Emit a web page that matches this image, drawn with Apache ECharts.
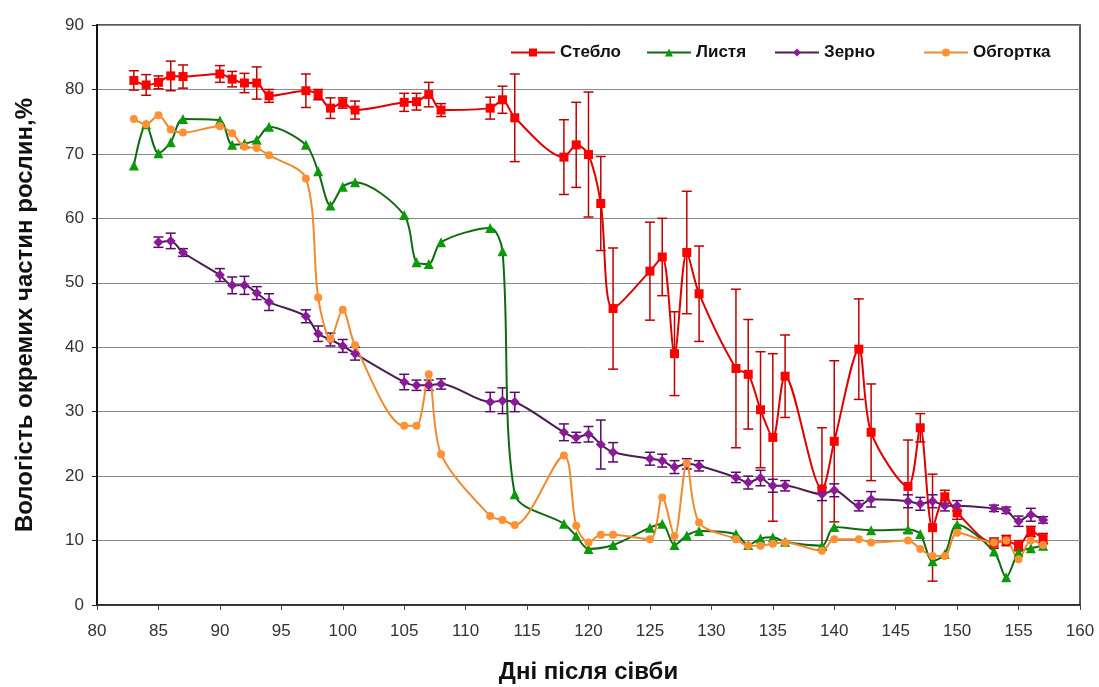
<!DOCTYPE html>
<html>
<head>
<meta charset="utf-8">
<script src="https://cdn.jsdelivr.net/npm/echarts@6/dist/echarts.min.js"></script>
<style>
  html, body { margin: 0; padding: 0; background: #ffffff; }
  #chart { width: 1099px; height: 687px; }
</style>
</head>
<body>
<div id="chart"></div>
<script>
// Days after sowing and moisture (%) of separate plant parts
const stemDays = [83,84,85,86,87,90,91,92,93,94,97,98,99,100,101,105,106,107,108,112,113,114,118,119,120,121,122,125,126,127,128,129,132,133,134,135,136,139,140,142,143,146,147,148,149,150,153,154,155,156,157];
const stemVal  = [81.4,80.7,81.1,82.1,82,82.4,81.6,81,81,79,79.8,79.2,77.1,77.9,76.8,78,78.1,79.2,76.8,77.1,78.4,75.6,69.5,71.4,69.9,62.3,46,51.8,54,39,54.7,48.3,36.7,35.8,30.3,26,35.5,18,25.4,39.7,26.8,18.4,27.5,12,16.8,14.3,9.6,10,9.2,11.4,10.3];
const stemErr  = [1.5,1.6,1,2.3,1.8,1.3,1.2,1.5,2.5,1,2.6,0.8,1.6,0.8,1.4,1.4,1.3,1.9,1,1.7,2.1,6.8,5.8,6.6,9.7,7.3,9.4,7.6,6,6.5,9.5,7.4,12.3,8.5,9,13,6.4,9.5,12.5,7.8,7.5,7.2,2.2,8.3,1,1,0.8,0.8,0.8,0.8,0.8];

const leafDays = [83,84,85,86,87,90,91,92,93,94,97,98,99,100,101,105,106,107,108,112,113,114,118,119,120,122,125,126,127,128,129,132,133,134,135,136,139,140,143,146,147,148,149,150,153,154,155,156,157];
const leafVal  = [68.2,74.6,70.1,71.8,75.4,75.2,71.4,71.6,72.2,74.2,71.4,67.3,62,64.9,65.6,60.5,53.2,52.9,56.3,58.5,54.9,17.2,12.6,10.7,8.7,9.3,12,12.6,9.3,10.8,11.5,11,9.3,10.3,10.5,9.8,9.2,12.1,11.6,11.7,11,6.8,7.9,12.5,8.3,4.3,8.2,8.8,9.2];

const grainDays = [85,86,87,90,91,92,93,94,97,98,99,100,101,105,106,107,108,112,113,114,118,119,120,121,122,125,126,127,128,129,132,133,134,135,136,139,140,142,143,146,147,148,149,150,153,154,155,156,157];
const grainVal  = [56.3,56.5,54.7,51.2,49.6,49.6,48.4,47,44.8,42.1,41.2,40.2,39,34.6,34.1,34.1,34.3,31.5,31.7,31.5,26.8,26,26.5,24.9,23.7,22.7,22.4,21.4,21.9,21.6,19.8,19,19.7,18.5,18.5,17.2,17.8,15.4,16.4,16.1,15.7,16.1,15.4,15.4,15,14.7,13,14,13.2];
const grainErr  = [0.8,1.2,0.6,1,1.3,1.4,1,1.3,1,1.2,1,1,1,1.2,0.8,0.8,0.8,1.5,2,1.5,1.3,0.8,1.2,3.8,1.5,1,1,1,0.8,0.8,0.8,1,1.2,1,0.8,1,1,0.8,1.2,1,1,1,0.8,0.8,0.5,0.5,0.8,1,0.5];

const wrapDays = [83,84,85,86,87,90,91,92,93,94,97,98,99,100,101,105,106,107,108,112,113,114,118,119,120,121,122,125,126,127,128,129,132,133,134,135,136,139,140,142,143,146,147,148,149,150,153,154,155,156,157];
const wrapVal  = [75.4,74.6,76,73.8,73.3,74.3,73.2,71.1,70.9,69.8,66.2,47.7,41.3,45.8,40.3,27.8,27.8,35.8,23.4,13.8,13.2,12.4,23.2,12.3,9.7,10.9,10.9,10.2,16.7,10.7,22,12.8,10.2,9.2,9.2,9.5,9.7,8.4,10.2,10.2,9.7,10,8.7,7.6,7.6,11.2,9.7,10,7.1,10,9.3];

const names = ['Стебло', 'Листя', 'Зерно', 'Обгортка'];
const FONT = '"Liberation Sans", Arial, sans-serif';

function pairs(xs, ys) { return xs.map((x, i) => [x, ys[i]]); }
function errRows(xs, ys, es) { return xs.map((x, i) => [x, ys[i] - es[i], ys[i] + es[i]]); }

// vertical error bar with caps
function errorBarSeries(data, color) {
  return {
    type: 'custom',
    data: data,
    z: 3,
    silent: true,
    encode: { x: 0, y: [1, 2] },
    renderItem: function (params, api) {
      const x = api.value(0);
      const lo = api.coord([x, api.value(1)]);
      const hi = api.coord([x, api.value(2)]);
      const hw = 5;
      const style = { stroke: color, lineWidth: 1.5 };
      return {
        type: 'group',
        children: [
          { type: 'line', shape: { x1: lo[0], y1: lo[1], x2: hi[0], y2: hi[1] }, style: style },
          { type: 'line', shape: { x1: lo[0] - hw, y1: lo[1], x2: lo[0] + hw, y2: lo[1] }, style: style },
          { type: 'line', shape: { x1: hi[0] - hw, y1: hi[1], x2: hi[0] + hw, y2: hi[1] }, style: style }
        ]
      };
    }
  };
}

function lineSeries(name, data, lineColor, markColor, symbol, size) {
  return {
    name: name,
    type: 'line',
    data: data,
    smooth: 0.3,
    symbol: symbol,
    symbolSize: size,
    z: 4,
    lineStyle: { color: lineColor, width: 2 },
    itemStyle: { color: markColor, borderColor: markColor, borderWidth: 0 }
  };
}

const chart = echarts.init(document.getElementById('chart'), null, { renderer: 'canvas' });

function legendAt(name, left) {
  return {
    data: [name],
    left: left,
    top: 39,
    itemWidth: 44,
    itemHeight: 10,
    itemGap: 0,
    textStyle: { fontFamily: FONT, fontSize: 17, fontWeight: 'bold', color: '#111' }
  };
}

chart.setOption({
  backgroundColor: '#ffffff',
  animation: false,
  legend: [
    legendAt('Стебло', 505),
    legendAt('Листя', 641),
    legendAt('Зерно', 769),
    legendAt('Обгортка', 918)
  ],
  grid: {
    left: 97, right: 19, top: 25, bottom: 82,
    containLabel: false,
    outerBoundsMode: 'none',
    show: true,
    borderColor: '#222',
    borderWidth: 1.5,
    backgroundColor: 'transparent'
  },
  xAxis: {
    type: 'value',
    min: 80, max: 160, interval: 5,
    name: 'Дні після сівби',
    nameLocation: 'middle',
    nameGap: 55,
    nameTextStyle: { fontFamily: FONT, fontSize: 24, fontWeight: 'bold', color: '#111' },
    axisLine: { show: true, lineStyle: { color: '#222', width: 1.5 } },
    axisTick: { show: true, length: 5, lineStyle: { color: '#444' } },
    axisLabel: { fontFamily: FONT, fontSize: 17, color: '#333', margin: 18 },
    splitLine: { show: false }
  },
  yAxis: {
    type: 'value',
    min: 0, max: 90, interval: 10,
    name: 'Вологість окремих частин рослин,%',
    nameLocation: 'middle',
    nameGap: 60,
    nameTextStyle: { fontFamily: FONT, fontSize: 24, fontWeight: 'bold', color: '#111' },
    axisLine: { show: true, lineStyle: { color: '#111', width: 2 } },
    axisTick: { show: true, length: 5, lineStyle: { color: '#222' } },
    axisLabel: { fontFamily: FONT, fontSize: 17, color: '#333', margin: 13 },
    splitLine: { show: true, lineStyle: { color: '#8a8a8a', width: 1 } }
  },
  series: [
    lineSeries(names[0], pairs(stemDays, stemVal), '#e00000', '#ff0000', 'rect', 9),
    lineSeries(names[1], pairs(leafDays, leafVal), '#106a10', '#0a9a0a', 'triangle', 10),
    lineSeries(names[2], pairs(grainDays, grainVal), '#4a1e52', '#8a1a9a', 'diamond', 10),
    lineSeries(names[3], pairs(wrapDays, wrapVal), '#f08a30', '#ff9033', 'circle', 8),
    errorBarSeries(errRows(stemDays, stemVal, stemErr), '#c00000'),
    errorBarSeries(errRows(grainDays, grainVal, grainErr), '#5a0a6a')
  ]
});
</script>
</body>
</html>
